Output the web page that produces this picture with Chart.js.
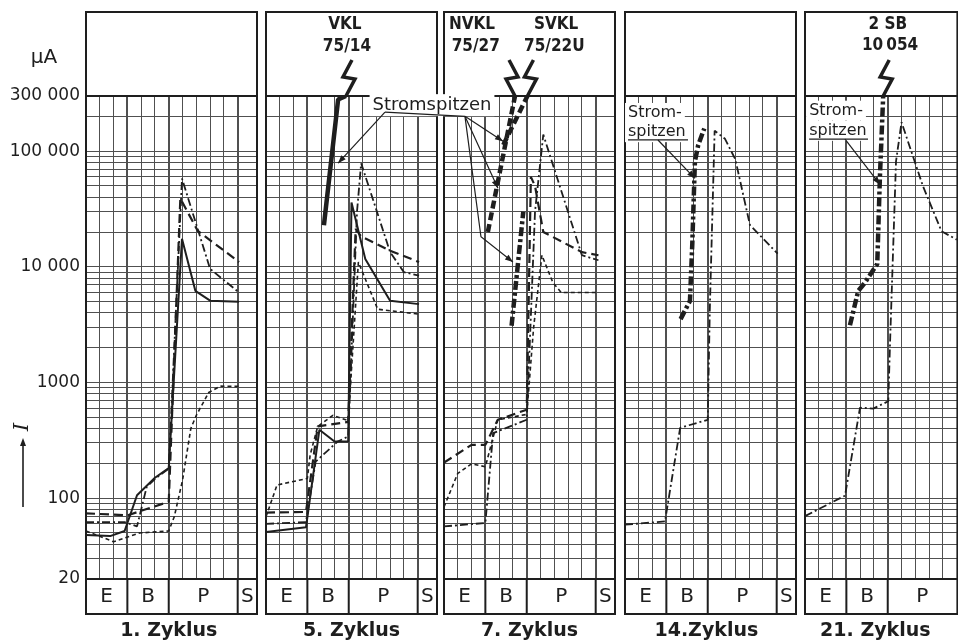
<!DOCTYPE html>
<html>
<head>
<meta charset="utf-8">
<script src="https://cdn.jsdelivr.net/npm/chart.js@4.4.1/dist/chart.umd.min.js"></script>
<style>
  html, body { margin: 0; padding: 0; background: #fff; overflow: hidden; width: 958px; height: 641px; }
  canvas { position: absolute; top: 0; }
</style>
</head>
<body>
<script>
// values: [phase position, current in µA]
const yTicks = [20, 100, 1000, 10000, 100000, 300000];
const yTickLabels = ['20', '100', '1000', '10 000', '100 000', '300 000'];
const phases = ['E', 'B', 'P', 'S'];
const phaseEdges = [0, 3, 6, 11, 12.4];
const cycles = ['1. Zyklus', '5. Zyklus', '7. Zyklus', '14.Zyklus', '21. Zyklus'];

// 1. Zyklus
const z1Solid = [[0, 48], [1.75, 47], [2.8, 52], [3.7, 106], [5, 150], [6, 182], [6.96, 17500], [7.93, 6200], [9, 5100], [11.1, 5000]];
const z1LongDash = [[0, 74], [3, 71], [6, 93], [6.84, 39000], [8.1, 20500], [11.1, 11000]];
const z1DashDot = [[0, 62], [2.8, 62], [3.7, 57], [4.4, 125], [5.1, 150], [6, 180], [6.96, 58000], [9, 9600], [11.1, 6000]];
const z1ShortDash = [[0, 52], [2, 42], [3.9, 50], [6, 52], [6.4, 69], [7, 143], [7.6, 400], [8, 520], [8.9, 820], [9.75, 930], [11.1, 925]];

// 5. Zyklus
const z5Solid = [[0, 51], [2.9, 56], [3.87, 390], [4.97, 309], [5.96, 309], [6.2, 36000], [7.2, 11700], [9, 5100], [11.1, 4760]];
const z5LongDash = [[0, 75], [2.9, 76], [3.75, 417], [5.96, 456], [6.5, 21300], [6.9, 18300], [9, 13800], [11.1, 11000]];
const z5DashDot = [[0, 60], [2.9, 62], [3.6, 207], [5.2, 309], [5.96, 341], [6.6, 30000], [6.9, 78700], [9, 13400], [10, 9000], [11.1, 8400]];
const z5ShortDash = [[0, 69], [0.8, 130], [3, 148], [3.2, 236], [3.75, 417], [4.85, 520], [5.96, 468], [6.7, 11000], [8.1, 4300], [11.1, 3900]];
const z5Spike = [[4.2, 22900], [5.23, 280000], [5.8, 300000]];

// 7. Zyklus
const z7LongDash = [[0, 203], [2, 289], [3, 289], [3.9, 476], [6, 582], [6.3, 60000], [6.6, 50000], [7.2, 20000], [10, 13400], [11.2, 12600]];
const z7DashDot = [[0, 57], [3, 61], [3.56, 365], [6, 476], [6.6, 30000], [7.2, 139000], [10, 12600], [11.2, 11400]];
const z7ShortDash = [[0, 84], [1, 164], [2, 198], [3, 187], [3.9, 476], [6, 530], [6.5, 3000], [7.1, 12600], [7.9, 7300], [8.5, 6000], [11.1, 6000]];
const z7SpikeN = [[3.18, 20000], [5.15, 300000]];
const z7SpikeS = [[4.3, 113000], [6.05, 300000]];
const z7SpikeDD = [[4.9, 3100], [5.75, 30000]];

// 14. Zyklus
const z14DashDot = [[0, 59], [2.9, 63], [4, 406], [6, 476], [6.15, 4300], [6.5, 150000], [7.25, 128000], [8, 85000], [9.06, 23000], [11.07, 13000]];
const z14Spike = [[4.03, 3530], [4.71, 5080], [4.88, 15800], [5.07, 81600], [5.31, 113000], [5.75, 157000]];

// 21. Zyklus
const z21DashDot = [[0, 70], [2.9, 105], [3.99, 606], [4.95, 595], [6.04, 688], [6.16, 2070], [6.6, 81600], [7, 178000], [8.55, 50000], [9.9, 20300], [11, 17200]];
const z21Spike = [[3.26, 3120], [3.86, 6200], [4.35, 7300], [5.24, 10600], [5.43, 58800], [5.67, 300000]];

const ink = '#1e1e1e';
const gridInk = '#505050';
const family = '"DejaVu Sans", sans-serif';
const headFamily = '"DejaVu Sans Condensed", "Liberation Sans", sans-serif';
const unitPx = 171 / 12.4;
const frameTop = 12, frameBottom = 614;

const styles = {
  solid: { w: 2, dash: [] },
  long: { w: 2.2, dash: [9, 5] },
  short: { w: 1.6, dash: [4, 3] },
  dashDot: { w: 1.8, dash: [8, 3, 2, 3] },
  heavy: { w: 4.5, dash: [] },
  heavyDash: { w: 4.5, dash: [8, 4] },
  heavyDashDot: { w: 4.5, dash: [9, 3, 3, 3] },
};

const panels = [
  { left: 86, axis: true, padLeft: 0, xMax: 12.4, titleX: 6.0,
    series: [[z1Solid, 'solid'], [z1LongDash, 'long'], [z1DashDot, 'dashDot'], [z1ShortDash, 'short']],
    header: [], bolts: [], notes: [] },
  { left: 266, padLeft: 20, xMax: 12.4, titleX: 6.2,
    series: [[z5Solid, 'solid'], [z5LongDash, 'long'], [z5DashDot, 'dashDot'], [z5ShortDash, 'short'], [z5Spike, 'heavy']],
    header: [['VKL', 5.72, 25], ['75/14', 5.87, 47]],
    bolts: [[5.8, false]], notes: [] },
  { left: 444, padLeft: 114, xMax: 12.4, titleX: 6.2,
    series: [[z7LongDash, 'long'], [z7DashDot, 'dashDot'], [z7ShortDash, 'short'], [z7SpikeN, 'heavyDash'], [z7SpikeS, 'heavyDash'], [z7SpikeDD, 'heavyDashDot']],
    header: [['NVKL', 2.03, 25], ['75/27', 2.3, 47], ['SVKL', 8.13, 25], ['75/22U', 8.0, 47]],
    bolts: [[5.15, true], [6.05, false]],
    notes: [
      { text: [['Stromspitzen', -0.87, 250000, 'center']], size: 18,
        rules: [[[-4.28, 218000], [1.52, 200000]]],
        arrows: [
          [[-4.28, 218000], [-7.68, 78700]],
          [[1.52, 200000], [4.28, 122000]],
          [[1.52, 200000], [3.91, 47700]],
          [[1.52, 200000], [2.68, 18200], [5.0, 11000]],
        ] },
    ] },
  { left: 625, padLeft: 20, xMax: 12.4, titleX: 5.9,
    series: [[z14DashDot, 'dashDot'], [z14Spike, 'heavyDashDot']],
    header: [], bolts: [],
    notes: [
      { text: [['Strom-', 0.22, 214000, 'left'], ['spitzen', 0.22, 146000, 'left']], size: 16,
        rules: [[[0.22, 125000], [4.57, 125000]]],
        arrows: [[[2.39, 125000], [5.07, 58200]]] },
    ] },
  { left: 805, padLeft: 20, xMax: 11.05, titleX: 5.1,
    series: [[z21DashDot, 'dashDot'], [z21Spike, 'heavyDashDot']],
    header: [['2 SB', 6.0, 25], ['10\u2009054', 6.17, 46]],
    bolts: [[5.67, false]],
    notes: [
      { text: [['Strom-', 0.3, 224000, 'left'], ['spitzen', 0.3, 150000, 'left']], size: 16,
        rules: [[[0.3, 127000], [4.57, 127000]]],
        arrows: [[[2.9, 127000], [5.43, 51600]]] },
    ] },
];

function yGridValues() {
  const vals = [];
  for (let d = 10; d <= 100000; d *= 10) {
    for (let m = 1; m <= 9; m++) {
      const v = m * d;
      if (v >= 20 && v <= 300000) vals.push(v);
    }
  }
  return vals;
}

function arrowHead(ctx, x0, y0, x1, y1) {
  const a = Math.atan2(y1 - y0, x1 - x0);
  ctx.beginPath();
  ctx.moveTo(x1, y1);
  ctx.lineTo(x1 - 8 * Math.cos(a) + 3 * Math.sin(a), y1 - 8 * Math.sin(a) - 3 * Math.cos(a));
  ctx.lineTo(x1 - 8 * Math.cos(a) - 3 * Math.sin(a), y1 - 8 * Math.sin(a) + 3 * Math.cos(a));
  ctx.closePath();
  ctx.fill();
}

function polyline(ctx, x, y, pts) {
  const pp = pts.map(([ux, uy]) => [x.getPixelForValue(ux), y.getPixelForValue(uy)]);
  ctx.beginPath();
  pp.forEach(([px, py], j) => j ? ctx.lineTo(px, py) : ctx.moveTo(px, py));
  ctx.stroke();
  return pp;
}

function paper(p, index) {
  return {
    id: 'paper' + index,
    afterDatasetsDraw(chart) {
      const { ctx, chartArea: a, scales: { x } } = chart;
      ctx.save();
      ctx.strokeStyle = ink;
      ctx.lineWidth = 2;
      ctx.strokeRect(a.left, frameTop, a.right - a.left, frameBottom - frameTop);
      ctx.beginPath();
      ctx.moveTo(a.left, a.top); ctx.lineTo(a.right, a.top);
      ctx.moveTo(a.left, a.bottom); ctx.lineTo(a.right, a.bottom);
      phaseEdges.slice(1, -1).forEach(v => {
        if (v < p.xMax - 0.1) {
          const px = x.getPixelForValue(v);
          ctx.moveTo(px, a.bottom); ctx.lineTo(px, frameBottom);
        }
      });
      ctx.stroke();
      ctx.restore();
    },
    afterDraw(chart) {
      const { ctx, chartArea: a, scales: { x, y } } = chart;
      ctx.save();
      ctx.fillStyle = ink;
      ctx.strokeStyle = ink;

      // header labels
      ctx.font = 'bold 17px ' + headFamily;
      ctx.textAlign = 'center';
      ctx.textBaseline = 'middle';
      p.header.forEach(([t, ux, py]) => ctx.fillText(t, x.getPixelForValue(ux), py));

      // lightning bolts above the current peaks
      ctx.lineWidth = 3.5;
      ctx.lineJoin = 'miter';
      p.bolts.forEach(([ux, mirror]) => {
        const ax = x.getPixelForValue(ux), ay = a.top;
        const s = mirror ? -1 : 1;
        ctx.beginPath();
        ctx.moveTo(ax, ay);
        ctx.lineTo(ax + s * 9, ay - 17);
        ctx.lineTo(ax - s * 3, ay - 19);
        ctx.lineTo(ax + s * 6, ay - 36);
        ctx.stroke();
      });

      // "Stromspitzen" notes
      p.notes.forEach(n => {
        ctx.font = n.size + 'px ' + family;
        n.text.forEach(([t, ux, uy, align]) => {
          const px = x.getPixelForValue(ux), py = y.getPixelForValue(uy);
          const w = ctx.measureText(t).width;
          const bx = align === 'center' ? px - w / 2 : px;
          ctx.fillStyle = '#fff';
          ctx.fillRect(bx - 3, py - n.size / 2 - 2, w + 6, n.size + 4);
        });
        ctx.fillStyle = ink;
        n.text.forEach(([t, ux, uy, align]) => {
          ctx.textAlign = align;
          ctx.fillText(t, x.getPixelForValue(ux), y.getPixelForValue(uy));
        });
        ctx.lineWidth = 1.2;
        n.rules.forEach(pts => polyline(ctx, x, y, pts));
        n.arrows.forEach(pts => {
          const pp = polyline(ctx, x, y, pts);
          const [x0, y0] = pp[pp.length - 2], [x1, y1] = pp[pp.length - 1];
          arrowHead(ctx, x0, y0, x1, y1);
        });
      });

      // cycle title
      ctx.font = 'bold 19px ' + family;
      ctx.textAlign = 'center';
      ctx.textBaseline = 'middle';
      ctx.fillText(cycles[index], x.getPixelForValue(p.titleX), 631);

      if (p.axis) {
        ctx.font = '20px ' + family;
        ctx.fillText('\u03bcA', 44, 58);
        ctx.save();
        ctx.translate(23, 427);
        ctx.rotate(-Math.PI / 2);
        ctx.font = 'italic 21px "DejaVu Serif", serif';
        ctx.fillText('I', 0, 0);
        ctx.restore();
        ctx.lineWidth = 1.6;
        ctx.beginPath();
        ctx.moveTo(23, 507); ctx.lineTo(23, 446);
        ctx.stroke();
        arrowHead(ctx, 23, 507, 23, 438);
      }
      ctx.restore();
    }
  };
}

const yGrid = yGridValues();

panels.forEach((p, index) => {
  const areaW = p.xMax * unitPx;
  const axisW = p.axis ? p.left : 0;
  const canvasLeft = p.axis ? 0 : p.left - p.padLeft;
  const padLeft = p.axis ? 0 : p.padLeft;
  const width = Math.ceil(axisW + padLeft + areaW + 8);
  const padRight = width - axisW - padLeft - areaW;

  const canvas = document.createElement('canvas');
  canvas.width = width;
  canvas.height = 641;
  canvas.style.left = canvasLeft + 'px';
  document.body.appendChild(canvas);

  const centers = phaseEdges.slice(0, -1)
    .map((e, k) => (e + phaseEdges[k + 1]) / 2)
    .filter(c => c < p.xMax);
  const xGrid = [];
  for (let v = 1; v <= 11 && v < p.xMax - 0.1; v++) xGrid.push(v);

  new Chart(canvas, {
    type: 'line',
    data: {
      datasets: p.series.map(([pts, st]) => ({
        data: pts.map(([vx, vy]) => ({ x: vx, y: vy })),
        borderColor: ink,
        borderWidth: styles[st].w,
        borderDash: styles[st].dash,
        borderJoinStyle: 'bevel',
        pointRadius: 0,
        fill: false,
        tension: 0,
      })),
    },
    options: {
      responsive: false,
      animation: false,
      events: [],
      layout: { padding: { left: padLeft, right: padRight, top: 96, bottom: 27 } },
      plugins: { legend: { display: false }, tooltip: { enabled: false } },
      scales: {
        x: {
          type: 'linear',
          min: 0,
          max: p.xMax,
          afterBuildTicks: s => { s.ticks = xGrid.concat(centers).map(v => ({ value: v })); },
          afterFit: s => { s.height = 35; },
          border: { display: false },
          grid: {
            drawTicks: false,
            color: gridInk,
            lineWidth: c => {
              if (!c.tick) return 1;
              const v = c.tick.value;
              if (centers.includes(v)) return 0;
              return phaseEdges.includes(v) ? 2 : 1;
            },
          },
          ticks: {
            autoSkip: false,
            maxRotation: 0,
            padding: 6,
            color: ink,
            font: { family: family, size: 20 },
            callback: v => {
              const k = centers.indexOf(v);
              return k < 0 ? '' : phases[k];
            },
          },
        },
        y: {
          type: 'logarithmic',
          min: 20,
          max: 300000,
          afterBuildTicks: s => { s.ticks = yGrid.map(v => ({ value: v })); },
          afterFit: s => { s.width = axisW; },
          border: { display: false },
          grid: {
            drawTicks: false,
            color: gridInk,
            lineWidth: c => (c.tick && (c.tick.value === 20 || c.tick.value === 300000)) ? 0 : 1,
          },
          ticks: {
            display: !!p.axis,
            autoSkip: false,
            padding: 6,
            color: ink,
            font: { family: family, size: 17 },
            callback: v => {
              const k = yTicks.indexOf(v);
              return k < 0 ? '' : yTickLabels[k];
            },
          },
        },
      },
    },
    plugins: [paper(p, index)],
  });
});
</script>
</body>
</html>
